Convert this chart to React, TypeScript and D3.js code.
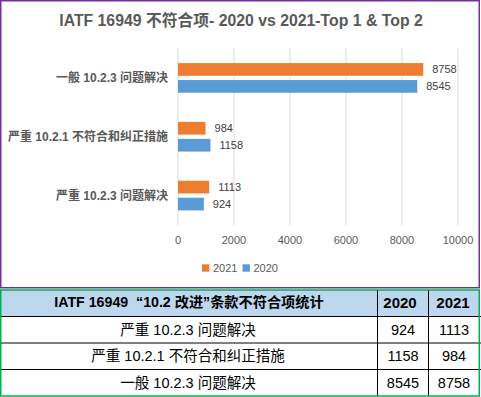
import React from "react";
import * as d3 from "d3";

const categories = ["一般 10.2.3 问题解决", "严重 10.2.1 不符合和纠正措施", "严重 10.2.3 问题解决"];
const series = ["2021", "2020"];
const values2021 = [8758, 984, 1113];
const values2020 = [8545, 1158, 924];
const xTicks = [0, 2000, 4000, 6000, 8000, 10000];
const colors = ["#ED7D31", "#5B9BD5"];

const tableTitle = "IATF 16949  “10.2 改进”条款不符合项统计";
const tableCategories = ["严重 10.2.3 问题解决", "严重 10.2.1 不符合和纠正措施", "一般 10.2.3 问题解决"];
const table2020 = [924, 1158, 8545];
const table2021 = [1113, 984, 8758];

const W = 481;
const H = 397;
const FONT = "'Liberation Sans', Arial, 'Noto Sans CJK SC', sans-serif";

export default function App() {
  const x = d3.scaleLinear().domain([0, 10000]).range([178, 458]);
  const y = d3.scaleBand<string>().domain(categories).range([48.5, 225]).padding(0);
  const bw = y.bandwidth();
  const inner = d3
    .scaleBand<string>()
    .domain(series)
    .range([bw * 0.248, bw * 0.752])
    .paddingInner(0.25)
    .paddingOuter(0);
  const seriesValues = [values2021, values2020];

  // table layout
  const colX = [0.75, 377.5, 428.5, 479.25];
  const rowY = d3.range(5).map((i) => (i === 0 ? 290 : 316.5 + (i - 1) * 26.5));

  return (
    <svg
      width={W}
      height={H}
      style={{ position: "absolute", left: 0, top: 0, background: "#fff" }}
      fontFamily={FONT}
    >
      {/* chart border */}
      <rect x={0.75} y={0.75} width={478.5} height={287} fill="#fff" stroke="#7030A0" strokeWidth={1.5} />
      <text x={241} y={20} dy="0.35em" textAnchor="middle" fontSize={15.8} fontWeight="bold" fill="#595959">
        IATF 16949 不符合项- 2020 vs 2021-Top 1 &amp; Top 2
      </text>

      {/* gridlines */}
      {xTicks.map((t) => (
        <line key={t} x1={x(t)} x2={x(t)} y1={48.5} y2={225} stroke="#D9D9D9" strokeWidth={1} />
      ))}
      {/* tick labels */}
      {xTicks.map((t) => (
        <text key={"t" + t} x={x(t)} y={240.5} dy="0.35em" textAnchor="middle" fontSize={11} fill="#595959">
          {t}
        </text>
      ))}

      {/* bars */}
      {categories.map((c, ci) => (
        <g key={c} transform={`translate(0,${y(c)})`}>
          {series.map((s, si) => {
            const v = seriesValues[si][ci];
            const by = inner(s) as number;
            return (
              <g key={s}>
                <rect x={x(0)} y={by} width={x(v) - x(0)} height={inner.bandwidth()} fill={colors[si]} />
                <text
                  x={x(v) + 9}
                  y={by + inner.bandwidth() / 2}
                  dy="0.35em"
                  fontSize={11}
                  fill="#404040"
                >
                  {v}
                </text>
              </g>
            );
          })}
          <text x={168} y={bw / 2} dy="0.35em" textAnchor="end" fontSize={12} fontWeight="bold" fill="#595959">
            {c}
          </text>
        </g>
      ))}

      {/* legend */}
      {series.map((s, i) => (
        <g key={s} transform={`translate(${202 + i * 40.5},268)`}>
          <rect x={0} y={-3.7} width={7.4} height={7.4} fill={colors[i]} />
          <text x={11} y={0} dy="0.35em" fontSize={11} fill="#595959">
            {s}
          </text>
        </g>
      ))}

      {/* table */}
      <rect x={colX[0]} y={rowY[0]} width={colX[3] - colX[0]} height={rowY[1] - rowY[0]} fill="#BDD7EE" />
      {rowY.slice(1, 4).map((ry) => (
        <line key={ry} x1={0} x2={W} y1={ry} y2={ry} stroke="#000" strokeWidth={1} />
      ))}
      {[colX[1], colX[2]].map((cx) => (
        <line key={cx} x1={cx} x2={cx} y1={rowY[0]} y2={rowY[4]} stroke="#000" strokeWidth={1} />
      ))}
      <rect
        x={colX[0]}
        y={rowY[0]}
        width={colX[3] - colX[0]}
        height={rowY[4] - rowY[0]}
        fill="none"
        stroke="#00B050"
        strokeWidth={1.5}
      />
      <text
        x={189}
        y={302.5}
        dy="0.35em"
        textAnchor="middle"
        fontSize={14.2}
        fontWeight="bold"
        fill="#000"
        style={{ whiteSpace: "pre" }}
      >
        {tableTitle}
      </text>
      <text x={400} y={302.5} dy="0.35em" textAnchor="middle" fontSize={15} fontWeight="bold" fill="#000">
        2020
      </text>
      <text x={453} y={302.5} dy="0.35em" textAnchor="middle" fontSize={15} fontWeight="bold" fill="#000">
        2021
      </text>
      {tableCategories.map((c, i) => {
        const cy = (rowY[i + 1] + rowY[i + 2]) / 2;
        return (
          <g key={c}>
            <text x={188} y={cy} dy="0.35em" textAnchor="middle" fontSize={14.5} fill="#000">
              {c}
            </text>
            <text x={403} y={cy} dy="0.35em" textAnchor="middle" fontSize={14.5} fill="#000">
              {table2020[i]}
            </text>
            <text x={454} y={cy} dy="0.35em" textAnchor="middle" fontSize={14.5} fill="#000">
              {table2021[i]}
            </text>
          </g>
        );
      })}
    </svg>
  );
}
